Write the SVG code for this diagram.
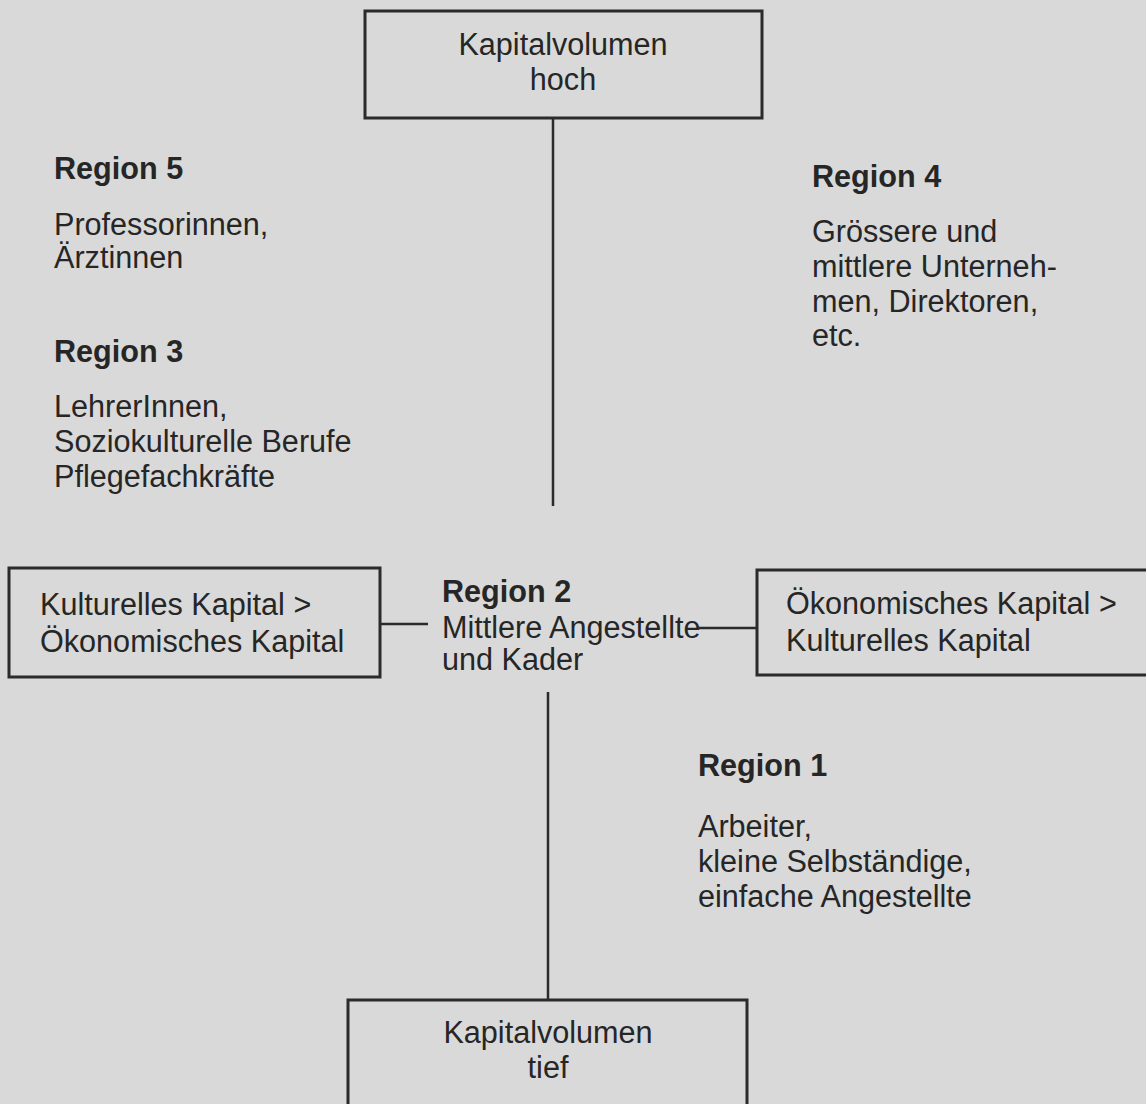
<svg xmlns="http://www.w3.org/2000/svg" width="1146" height="1104" viewBox="0 0 1146 1104">
<style>
.bg{fill:#d9d9d9}
.box{fill:none;stroke:#2b2b2b;stroke-width:3}
.ln{stroke:#2b2b2b;stroke-width:2.5;fill:none}
text{font-family:"Liberation Sans",Arial,sans-serif;font-size:30.6px;fill:#262626}
.b{font-weight:bold}
.c{text-anchor:middle}
</style>
<rect class="bg" x="0" y="0" width="1146" height="1104"/>
<g id="connectors">
<line class="ln" x1="553" y1="118" x2="553" y2="506"/>
<line class="ln" x1="548" y1="692" x2="548" y2="1000"/>
<line class="ln" x1="380" y1="624" x2="428" y2="624"/>
<line class="ln" x1="699" y1="628" x2="757" y2="628"/>
</g>
<g id="node-top">
<rect class="box" x="365" y="11" width="397" height="107"/>
<text class="c" x="563" y="55">Kapitalvolumen</text>
<text class="c" x="563" y="90">hoch</text>
</g>
<g id="node-bottom">
<rect class="box" x="348" y="1000" width="399" height="120"/>
<text class="c" x="548" y="1043">Kapitalvolumen</text>
<text class="c" x="548" y="1078">tief</text>
</g>
<g id="node-left">
<rect class="box" x="9" y="568" width="371" height="109"/>
<text x="40" y="615">Kulturelles Kapital &gt;</text>
<text x="40" y="652">Ökonomisches Kapital</text>
</g>
<g id="node-right">
<rect class="box" x="757" y="570" width="410" height="105"/>
<text x="786" y="614">Ökonomisches Kapital &gt;</text>
<text x="786" y="651">Kulturelles Kapital</text>
</g>
<g id="region2">
<text class="b" x="442" y="602">Region 2</text>
<text x="442" y="638">Mittlere Angestellte</text>
<text x="442" y="670">und Kader</text>
</g>
<g id="region5">
<text class="b" x="54" y="179">Region 5</text>
<text x="54" y="235">Professorinnen,</text>
<text x="54" y="268">Ärztinnen</text>
</g>
<g id="region3">
<text class="b" x="54" y="362">Region 3</text>
<text x="54" y="417">LehrerInnen,</text>
<text x="54" y="452">Soziokulturelle Berufe</text>
<text x="54" y="487">Pflegefachkräfte</text>
</g>
<g id="region4">
<text class="b" x="812" y="187">Region 4</text>
<text x="812" y="242">Grössere und</text>
<text x="812" y="277">mittlere Unterneh-</text>
<text x="812" y="312">men, Direktoren,</text>
<text x="812" y="346">etc.</text>
</g>
<g id="region1">
<text class="b" x="698" y="776">Region 1</text>
<text x="698" y="837">Arbeiter,</text>
<text x="698" y="872">kleine Selbständige,</text>
<text x="698" y="907">einfache Angestellte</text>
</g>
</svg>
